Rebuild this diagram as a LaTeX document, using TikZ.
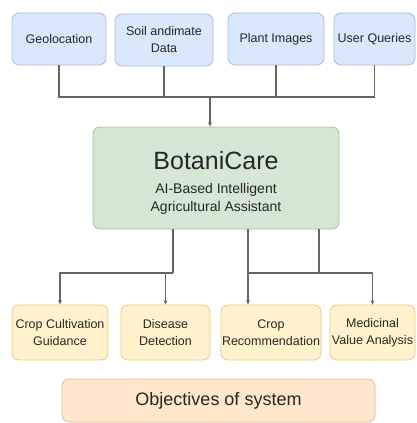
\documentclass[tikz,border=0pt]{standalone}
\usepackage{fontspec}
\setmainfont{Liberation Sans}
\usetikzlibrary{arrows.meta}
\definecolor{infill}{HTML}{DAE8FC}
\definecolor{indraw}{HTML}{A9BBD9}
\definecolor{corefill}{HTML}{D5E8D4}
\definecolor{coredraw}{HTML}{A3C58E}
\definecolor{outfill}{HTML}{FFF2CC}
\definecolor{outdraw}{HTML}{E2CC85}
\definecolor{goalfill}{HTML}{FFE6CC}
\definecolor{goaldraw}{HTML}{E5BF8A}
\begin{document}
\begin{tikzpicture}[x=1pt, y=-1pt,
    box/.style={draw, rounded corners=7pt, line width=0.8pt, align=center, inner sep=1pt, text=black!85},
    link/.style={draw=black!60, line width=1.2pt, -{Stealth[length=4.5pt,width=4pt]}}]
\tikzset{inbox/.style={box, fill=infill, draw=indraw, minimum height=52pt, font=\fontsize{12.5}{17}\selectfont}}
\tikzset{outbox/.style={box, fill=outfill, draw=outdraw, minimum height=55pt, font=\fontsize{12.5}{17}\selectfont}}
%\tikzset{every node/.style={font=\sffamily}}
\useasboundingbox (0,0) rectangle (416,423);

\node[inbox, minimum width=94pt] (geo) at (59,39) {Geolocation};
\node[inbox, minimum width=98pt] (soil) at (164,40) {Soil andimate\\Data};
\node[inbox, minimum width=96pt] (plant) at (276,39) {Plant Images};
\node[inbox, minimum width=81pt] (user) at (374.5,39) {User Queries};

\node[box, fill=corefill, draw=coredraw, minimum width=246pt, minimum height=102pt] (core) at (216,178) {};
\node[align=center, text=black!85] (coretext) at (216,182.5)
    {\fontsize{25}{30}\selectfont BotaniCare\\[12pt]
     \fontsize{14}{19}\selectfont AI-Based Intelligent\\[4pt]
     \fontsize{14}{19}\selectfont Agricultural Assistant};

\node[outbox, minimum width=96pt] (crop) at (60,332.5) {Crop Cultivation\\Guidance};
\node[outbox, minimum width=89pt] (disease) at (165.5,332.5) {Disease\\Detection};
\node[outbox, minimum width=98pt] (recom) at (271,332.5) {Crop\\Recommendation};
\node[outbox, minimum width=85pt] (medic) at (372.5,332.5) {Medicinal\\Value Analysis};

\node[box, fill=goalfill, draw=goaldraw, minimum width=313pt, minimum height=43pt,
    font=\fontsize{18}{22}\selectfont] (goal) at (218.5,400.5) {Objectives of system};

\coordinate (topbar) at (210,97);
\coordinate (lbar) at (173,273);
\coordinate (rbar) at (248,273);
\coordinate (rmid) at (319,273);

\draw[link, -] (geo) |- (topbar) -| (user);
\draw[link, -] (soil) -- (soil |- topbar);
\draw[link, -] (plant) -- (plant |- topbar);
\draw[link] (topbar) -- (topbar |- core.north);

\draw[link, -] (core.south -| lbar) -- (lbar);
\draw[link] (lbar) -| (crop);
\draw[link] (disease |- lbar) -- (disease);
\draw[link] (core.south -| rbar) -- (rbar |- recom.north);
\draw[link, -] (core.south -| rmid) -- (rmid);
\draw[link] (rbar) -| (medic);
\end{tikzpicture}
\end{document}
